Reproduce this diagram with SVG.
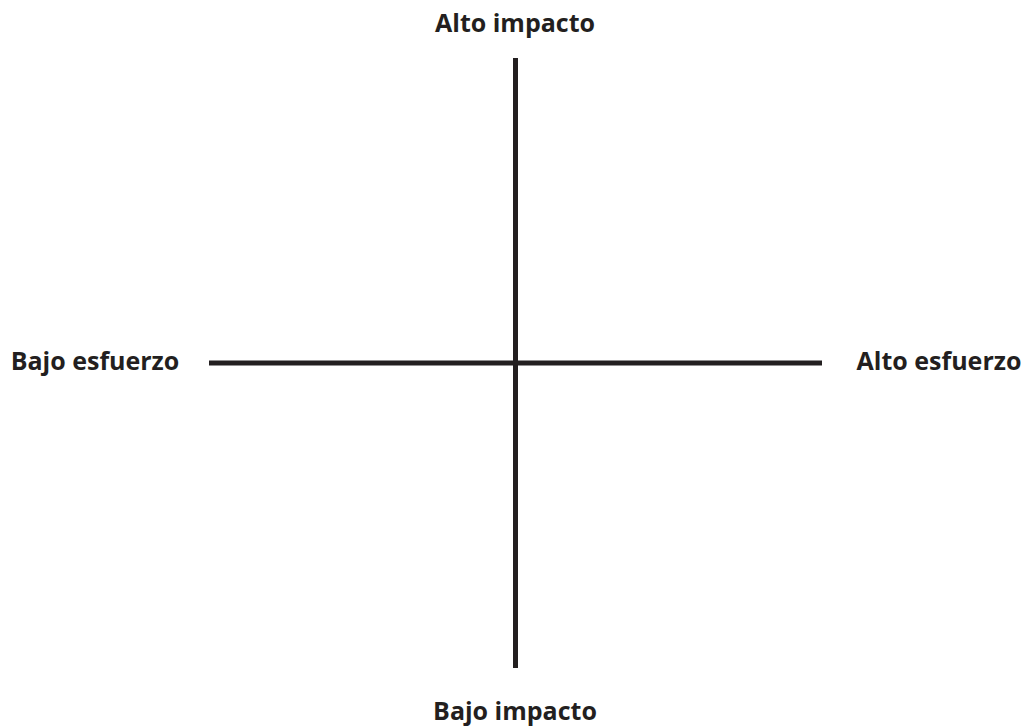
<svg xmlns="http://www.w3.org/2000/svg" width="1028" height="728" viewBox="0 0 1028 728">
<style>
.lbl{font-family:"Open Sans","Noto Sans","DejaVu Sans",sans-serif;font-weight:bold;font-size:25px;fill:#231f20}
.axis{stroke:#231f20;stroke-width:5;fill:none}
</style>
<rect width="1028" height="728" fill="#ffffff"/>
<g id="connectors">
<line class="axis" x1="515.5" y1="58" x2="515.5" y2="668"/>
<line class="axis" x1="209" y1="363" x2="822" y2="363"/>
</g>
<g id="alto-impacto"><text class="lbl" x="515" y="32" text-anchor="middle">Alto impacto</text></g>
<g id="bajo-impacto"><text class="lbl" x="515" y="720" text-anchor="middle">Bajo impacto</text></g>
<g id="bajo-esfuerzo"><text class="lbl" x="95" y="370" text-anchor="middle">Bajo esfuerzo</text></g>
<g id="alto-esfuerzo"><text class="lbl" x="939" y="370" text-anchor="middle">Alto esfuerzo</text></g>
</svg>
